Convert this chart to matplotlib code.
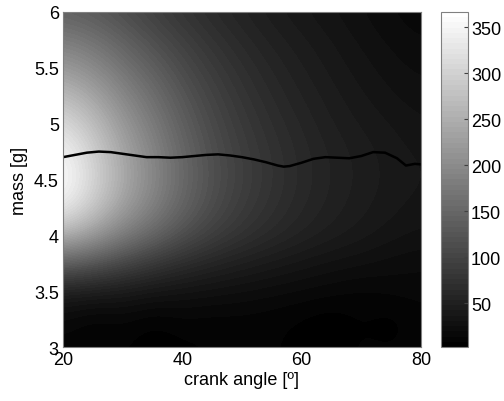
import numpy as np
import matplotlib
matplotlib.use("Agg")
import matplotlib.pyplot as plt

plt.rcParams["font.family"] = ["Liberation Sans", "DejaVu Sans"]

# grid of the surface (crank angle in degrees, mass in g)
angles = [20, 25, 30, 35, 40, 45, 50, 55, 60, 65, 70, 75, 80]
masses = [3.0, 3.25, 3.5, 3.75, 4.0, 4.25, 4.5, 4.75, 5.0, 5.25, 5.5, 5.75, 6.0]

z_300 = [10, 10, 8, 4, 6, 8, 8, 8, 7, 5, 9, 8, 10]
z_325 = [18, 8, 14, 6, 12, 10, 11, 9, 6, 3, 8, 4, 11]
z_350 = [48, 44, 40, 34, 30, 27, 24, 21, 18, 15, 12, 15, 16]
z_375 = [140, 125, 104, 84, 68, 56, 47, 40, 34, 29, 26, 22, 20]
z_400 = [255, 222, 180, 148, 117, 93, 76, 63, 53, 45, 39, 33, 29]
z_425 = [340, 288, 230, 186, 144, 112, 89, 73, 60, 51, 44, 38, 34]
z_450 = [366, 308, 245, 198, 152, 118, 94, 77, 63, 53, 46, 40, 36]
z_475 = [350, 298, 238, 192, 148, 115, 92, 75, 62, 52, 45, 39, 35]
z_500 = [315, 272, 220, 178, 138, 108, 86, 70, 58, 48, 41, 36, 31]
z_525 = [268, 238, 195, 160, 125, 99, 79, 64, 53, 44, 37, 31, 27]
z_550 = [222, 200, 168, 138, 110, 88, 71, 58, 48, 40, 33, 27, 23]
z_575 = [180, 165, 140, 115, 94, 76, 62, 51, 43, 36, 29, 23, 19]
z_600 = [140, 130, 113, 95, 78, 64, 53, 44, 37, 31, 25, 19, 15]

# optimum line
line_angle = [20, 22, 24, 26, 28, 30, 32, 34, 36, 38, 40, 42, 44, 46, 48, 50,
              52, 54, 56, 57, 58, 60, 62, 64, 66, 68, 70, 72, 74, 76, 77.5, 79, 80]
line_mass = [4.70, 4.72, 4.74, 4.75, 4.745, 4.73, 4.715, 4.70, 4.70, 4.695, 4.70,
             4.71, 4.72, 4.725, 4.715, 4.70, 4.68, 4.655, 4.625, 4.615, 4.62, 4.65,
             4.685, 4.70, 4.695, 4.69, 4.71, 4.745, 4.74, 4.69, 4.625, 4.64, 4.635]

Z = np.array([z_300, z_325, z_350, z_375, z_400, z_425, z_450, z_475,
              z_500, z_525, z_550, z_575, z_600], dtype=float)

dx = (angles[1] - angles[0]) / 2
dy = (masses[1] - masses[0]) / 2

fig = plt.figure(figsize=(5.04, 4.02), dpi=100)
ax = fig.add_axes([0.125, 0.134, 0.71, 0.834])
cax = fig.add_axes([0.875, 0.134, 0.054, 0.834])

im = ax.imshow(Z, origin="lower", aspect="auto", interpolation="bicubic",
               cmap=plt.get_cmap("gray", 64), vmin=2, vmax=367,
               extent=[angles[0] - dx, angles[-1] + dx, masses[0] - dy, masses[-1] + dy])
ax.plot(line_angle, line_mass, color="black", lw=1.8)

ax.set_xlim(20, 80)
ax.set_ylim(3, 6)
ax.set_xticks([20, 40, 60, 80])
ax.set_yticks([3, 3.5, 4, 4.5, 5, 5.5, 6])
ax.set_yticklabels(["3", "3.5", "4", "4.5", "5", "5.5", "6"])
ax.tick_params(length=0, labelsize=13, pad=3)
ax.set_xlabel("crank angle [º]", fontsize=13, labelpad=2)
ax.set_ylabel("mass [g]", fontsize=13, labelpad=4)
for s in ax.spines.values():
    s.set_color("#808080")
    s.set_linewidth(0.8)

cb = fig.colorbar(im, cax=cax)
cb.set_ticks([50, 100, 150, 200, 250, 300, 350])
cb.ax.tick_params(direction="in", length=3, width=0.8, labelsize=13, pad=2, color="#404040")
cb.outline.set_edgecolor("#808080")
cb.outline.set_linewidth(0.8)

fig.savefig("out.png", dpi=100)
